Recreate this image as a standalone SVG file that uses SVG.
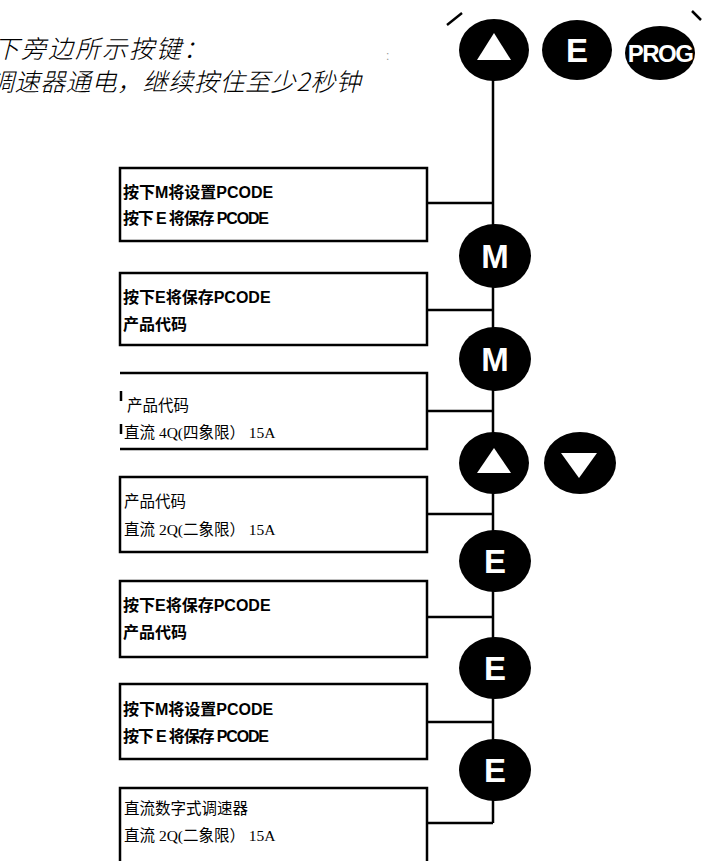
<svg xmlns="http://www.w3.org/2000/svg" width="704" height="861" viewBox="0 0 704 861">
<style>
.box{fill:#fff;stroke:#000;stroke-width:2.5}
.edge{fill:none;stroke:#000;stroke-width:2.5}
.key{fill:#000}
.tri{fill:#fff}
.klbl{fill:#fff;font-family:"Liberation Sans",Arial,sans-serif;font-weight:bold;text-anchor:middle}
.hdr{font-family:"Noto Sans CJK SC",sans-serif;font-style:italic;font-weight:300;font-size:25px;fill:#000}
.b{font-family:"Liberation Sans","Noto Sans CJK SC",sans-serif;font-weight:bold;font-size:16px;fill:#000}
.r{font-family:"Liberation Serif","Noto Sans CJK SC",serif;font-size:15.5px;fill:#000}
</style>
<g id="header">
<text class="hdr" x="-6" y="58" letter-spacing="2">下旁边所示按键：</text>
<text class="hdr" x="-11" y="91" letter-spacing="0.6">调速器通电，继续按住至少2秒钟</text>
<text x="386" y="60" font-family="Liberation Sans,sans-serif" font-size="12" fill="#999">:</text>
<line class="edge" x1="447" y1="25" x2="462" y2="13" stroke-width="2"/>
<line class="edge" x1="692" y1="11" x2="701" y2="20" stroke-width="2"/>
</g>
<g id="connectors">
<line class="edge" x1="493" y1="60" x2="493" y2="823"/>
<line class="edge" x1="427" y1="203" x2="493" y2="203"/>
<line class="edge" x1="427" y1="310" x2="493" y2="310"/>
<line class="edge" x1="427" y1="411" x2="493" y2="411"/>
<line class="edge" x1="427" y1="514" x2="493" y2="514"/>
<line class="edge" x1="427" y1="617" x2="493" y2="617"/>
<line class="edge" x1="427" y1="722" x2="493" y2="722"/>
<line class="edge" x1="427" y1="823" x2="493" y2="823"/>
</g>
<g id="box1">
<rect class="box" x="120" y="168" width="307" height="73"/>
<text class="b" x="123" y="198">按下M将设置PCODE</text>
<text class="b" x="123" y="224" textLength="146">按下 E 将保存 PCODE</text>
</g>
<g id="box2">
<rect class="box" x="120" y="273" width="307" height="72"/>
<text class="b" x="123" y="303">按下E将保存PCODE</text>
<text class="b" x="123" y="330">产品代码</text>
</g>
<g id="box3">
<path class="edge" d="M120,373 H427 V449 H120"/>
<line class="edge" x1="121" y1="391" x2="121" y2="401"/>
<line class="edge" x1="121" y1="424" x2="121" y2="434"/>
<text class="r" x="127" y="411">产品代码</text>
<text class="r" x="124" y="438">直流 4Q(四象限） 15A</text>
</g>
<g id="box4">
<rect class="box" x="120" y="477" width="307" height="75"/>
<text class="r" x="124" y="507">产品代码</text>
<text class="r" x="124" y="535">直流 2Q(二象限） 15A</text>
</g>
<g id="box5">
<rect class="box" x="120" y="581" width="307" height="76"/>
<text class="b" x="123" y="611">按下E将保存PCODE</text>
<text class="b" x="123" y="638">产品代码</text>
</g>
<g id="box6">
<rect class="box" x="120" y="684" width="307" height="75"/>
<text class="b" x="123" y="715">按下M将设置PCODE</text>
<text class="b" x="123" y="742" textLength="146">按下 E 将保存 PCODE</text>
</g>
<g id="box7">
<rect class="box" x="120" y="788" width="307" height="90"/>
<text class="r" x="124" y="814">直流数字式调速器</text>
<text class="r" x="124" y="841">直流 2Q(二象限） 15A</text>
</g>
<g id="key-up-top">
<ellipse class="key" cx="494" cy="50" rx="35" ry="31"/>
<polygon class="tri" points="477,60 511,60 494,33"/>
</g>
<g id="key-e-top">
<ellipse class="key" cx="577" cy="50" rx="35" ry="30"/>
<text class="klbl" x="577" y="62" font-size="33">E</text>
</g>
<g id="key-prog">
<ellipse class="key" cx="660" cy="53" rx="35" ry="27"/>
<text class="klbl" x="660" y="62" font-size="24" letter-spacing="-1.5">PROG</text>
</g>
<g id="key-m1">
<ellipse class="key" cx="495" cy="256" rx="36" ry="32"/>
<text class="klbl" x="495" y="268" font-size="33">M</text>
</g>
<g id="key-m2">
<ellipse class="key" cx="495" cy="359" rx="36" ry="32"/>
<text class="klbl" x="495" y="371" font-size="33">M</text>
</g>
<g id="key-up">
<ellipse class="key" cx="494" cy="463" rx="35" ry="31"/>
<polygon class="tri" points="477,473 511,473 494,448"/>
</g>
<g id="key-down">
<ellipse class="key" cx="580" cy="463" rx="36" ry="31"/>
<polygon class="tri" points="561,453 597,453 579,478"/>
</g>
<g id="key-e1">
<ellipse class="key" cx="495" cy="561" rx="36" ry="31"/>
<text class="klbl" x="495" y="573" font-size="33">E</text>
</g>
<g id="key-e2">
<ellipse class="key" cx="495" cy="668" rx="36" ry="31"/>
<text class="klbl" x="495" y="680" font-size="33">E</text>
</g>
<g id="key-e3">
<ellipse class="key" cx="495" cy="770" rx="36" ry="31"/>
<text class="klbl" x="495" y="782" font-size="33">E</text>
</g>
</svg>
